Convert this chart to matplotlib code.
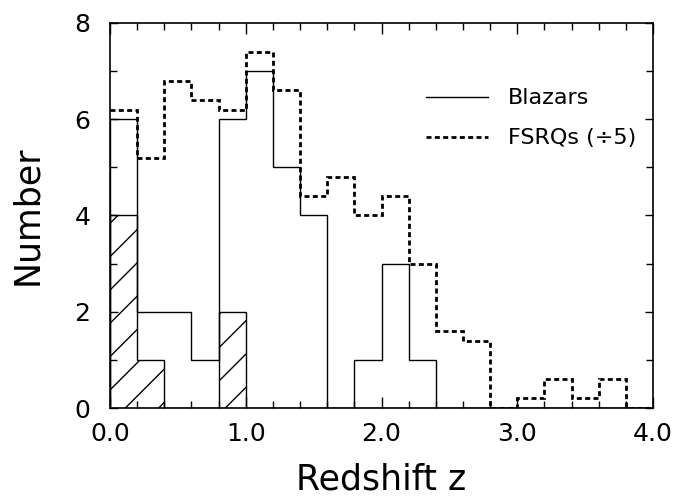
import numpy as np
import matplotlib
matplotlib.use("Agg")
import matplotlib.pyplot as plt
from matplotlib.ticker import MultipleLocator

# bin edges in redshift (0.2 wide)
edges = np.round(np.arange(0.0, 4.01, 0.2), 1)

# all blazars
blazars = [6, 2, 2, 1, 6, 7, 5, 4, 0, 1, 3, 1, 0, 0, 0, 0, 0, 0, 0, 0]
# hatched subset
hatched = [4, 1, 0, 0, 2, 0, 0, 0, 0, 0, 0, 0, 0, 0, 0, 0, 0, 0, 0, 0]
# FSRQs divided by 5
fsrqs = [6.2, 5.2, 6.8, 6.4, 6.2, 7.4, 6.6, 4.4, 4.8, 4.0,
         4.4, 3.0, 1.6, 1.4, 0.0, 0.2, 0.6, 0.2, 0.6, 0.0]

xticks = [0, 1, 2, 3, 4]
xticklabels = ["0.0", "1.0", "2.0", "3.0", "4.0"]

plt.rcParams["font.family"] = "DejaVu Sans"
plt.rcParams["hatch.linewidth"] = 1.0

fig = plt.figure(figsize=(6.81, 4.97), dpi=100)
ax = fig.add_axes([0.1615, 0.179, 0.7975, 0.775])

ax.stairs(hatched, edges, fill=True, facecolor="none", edgecolor="black",
          hatch="/", linewidth=1.0)
ax.stairs(blazars, edges, color="black", linewidth=1.0, baseline=0,
          label="Blazars")
ax.stairs(fsrqs, edges, color="black", linewidth=2.0, linestyle=(0, (1.8, 1.2)),
          baseline=None, label="FSRQs (\u00f75)")

ax.set_xlim(0, 4)
ax.set_ylim(0, 8)
ax.set_xticks(xticks)
ax.set_xticklabels(xticklabels)
ax.xaxis.set_minor_locator(MultipleLocator(0.2))
ax.set_yticks([0, 2, 4, 6, 8])
ax.yaxis.set_minor_locator(MultipleLocator(1))

ax.tick_params(which="both", direction="in", top=True, right=True, width=1.0)
ax.tick_params(which="major", length=8, labelsize=18)
ax.tick_params(which="minor", length=5)
ax.tick_params(axis="x", which="major", pad=10)
ax.tick_params(axis="y", which="major", pad=14, length=6)
for s in ax.spines.values():
    s.set_linewidth(1.2)

ax.set_xlabel("Redshift z", fontsize=25, labelpad=12)
ax.set_ylabel("Number", fontsize=25, labelpad=22)

ax.legend(loc="upper left", bbox_to_anchor=(0.582, 0.83), frameon=False,
          fontsize=16, handlelength=2.8, handletextpad=0.9, labelspacing=0.9,
          borderpad=0, borderaxespad=0)

fig.savefig("out.png", dpi=100)
